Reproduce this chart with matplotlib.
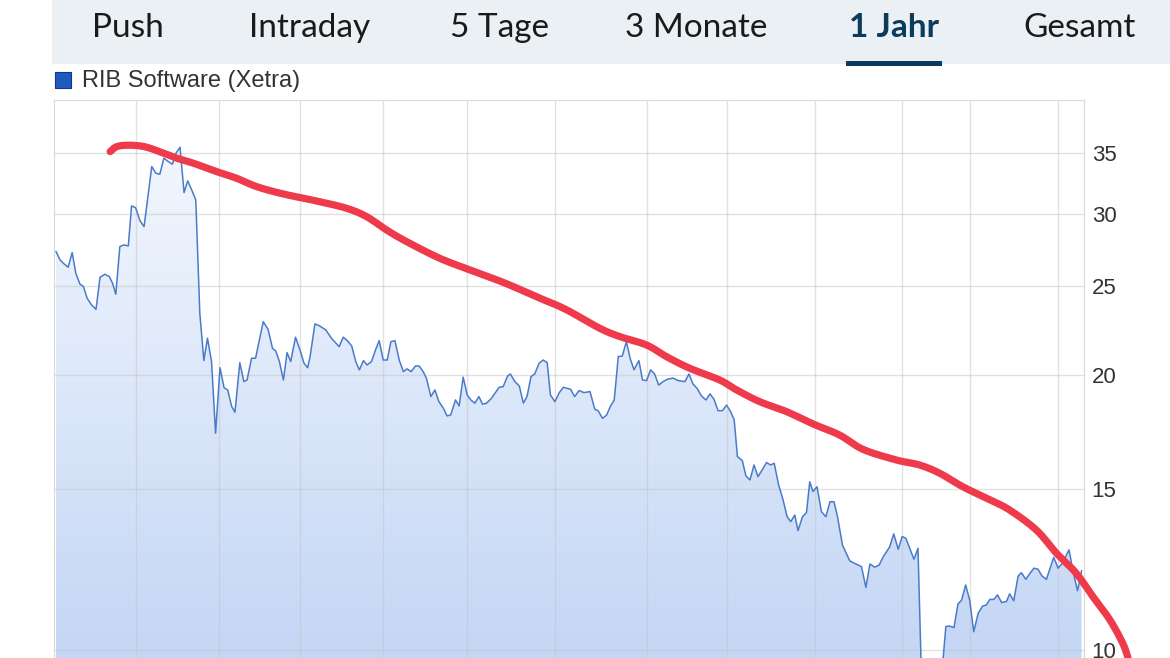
import numpy as np
import matplotlib
matplotlib.use('Agg')
import matplotlib.pyplot as plt
from matplotlib.patches import Rectangle
from matplotlib.colors import LinearSegmentedColormap
from matplotlib.ticker import NullLocator

# ---------------- data ----------------
tab_labels = ["Push", "Intraday", "5 Tage", "3 Monate", "1 Jahr", "Gesamt"]
active_tab = "1 Jahr"
series_name = "RIB Software (Xetra)"

y_ticks = [10, 15, 20, 25, 30, 35]
y_tick_labels = ["10", "15", "20", "25", "30", "35"]
month_grid_days = [20.3, 40.8, 60.9, 81.4, 102.2, 124.0, 146.8, 166.6, 188.3, 209.9, 226.7, 248.5]

days = [0.5, 1.5, 2.3, 3.5, 4.5, 5.4, 6.4, 7.3, 8.2, 9.3,
        10.4, 11.4, 12.6, 13.7, 14.5, 15.3, 16.3, 17.3, 18.4, 19.2,
        20.2, 21.3, 22.3, 24.2, 25.2, 26.2, 27.2, 28.3, 29.3, 30.2,
        31.2, 32.2, 33.1, 34.1, 35.1, 36.1, 37.1, 38.0, 39.0, 40.0,
        41.1, 42.1, 43.0, 44.0, 44.8, 46.0, 47.0, 47.8, 48.9, 49.9,
        51.8, 53.0, 54.1, 54.9, 55.8, 56.8, 57.7, 58.6, 59.8, 60.9,
        61.9, 62.8,
        63.4, 64.6, 65.8, 67.3, 68.7, 70.6, 71.6, 72.6, 73.7, 74.7,
        75.6, 76.6, 77.5, 78.6, 79.6, 80.5, 81.5, 82.5, 83.4, 84.4,
        85.5, 86.5, 87.4, 88.4, 89.5, 90.4, 91.4, 92.2, 93.3, 94.3,
        95.3, 96.4, 97.3, 98.2, 99.4, 100.3, 101.3, 102.3, 103.2, 104.2,
        105.2, 106.1, 107.1, 108.3, 110.2, 111.2, 112.3, 113.0, 114.1, 115.2,
        116.2, 117.1, 118.1, 119.0, 120.1, 121.1, 122.1, 122.9, 124.0, 125.1,
        126.1, 127.9, 128.9, 130.0, 131.2,
        132.7, 133.9, 134.7, 135.8, 136.8, 137.8, 138.7, 139.7, 140.7, 141.7,
        142.7, 143.6, 144.8, 145.7, 146.7, 147.7, 148.7, 149.7, 150.8, 152.0,
        153.3, 154.5, 156.2, 157.2, 158.2, 159.2, 160.3, 161.4, 162.4, 163.4,
        164.4, 165.5, 166.5, 167.5, 168.4, 169.2, 170.4, 171.3, 172.3, 173.3,
        174.3, 175.3, 176.4, 177.4, 178.3, 179.4, 180.5, 181.5, 182.4, 183.4,
        184.2, 185.3, 186.3, 187.1, 187.9, 188.9, 190.0, 191.1, 192.1, 193.1,
        193.9, 195.2, 197.0, 198.2, 199.9, 201.0, 202.0, 203.2, 204.3, 205.3,
        206.9, 207.9, 209.0, 210.0, 210.9, 212.9, 213.9, 214.8, 216.0, 217.2,
        218.4, 219.6, 220.8, 221.8, 222.8, 223.8, 224.7, 225.7, 226.7, 227.7,
        228.8, 229.9, 230.8, 231.7, 232.7, 233.6, 234.6, 235.8, 236.6, 237.6,
        238.7, 239.5, 240.6, 241.6, 242.6, 243.6, 244.6, 245.7, 247.5, 248.6,
        249.6, 251.3, 252.3, 253.4, 254.4]

prices = [27.30, 26.73, 26.51, 26.24, 27.23, 25.85, 25.16, 24.99, 24.27, 23.86,
          23.60, 25.59, 25.78, 25.63, 25.20, 24.51, 27.64, 27.76, 27.69, 30.63,
          30.49, 29.49, 29.07, 33.82, 33.26, 33.17, 34.54, 34.25, 34.02, 34.98,
          35.51, 31.67, 32.62, 31.88, 31.09, 23.37, 20.74, 21.94, 20.69, 17.27,
          20.37, 19.37, 19.26, 18.47, 18.21, 20.63, 19.67, 19.75, 20.86, 20.86,
          22.88, 22.44, 21.39, 21.25, 20.69, 19.75, 21.16, 20.69, 22.00, 21.30,
          20.60, 20.37,
          20.95, 22.75, 22.63, 22.40, 21.94, 21.48, 22.00, 21.81, 21.52, 20.69,
          20.26, 20.74, 20.51, 20.69, 21.30, 21.81, 20.77, 20.77, 21.75, 21.81,
          20.74, 20.17, 20.31, 20.17, 20.46, 20.46, 20.17, 19.84, 18.94, 19.26,
          18.70, 18.39, 18.04, 18.08, 18.78, 18.50, 19.89, 19.02, 18.78, 18.63,
          18.94, 18.58, 18.63, 18.86, 19.39, 19.42, 19.95, 20.05, 19.67, 19.45,
          18.63, 18.94, 19.92, 20.05, 20.60, 20.77, 20.63, 19.02, 18.70, 19.13,
          19.39, 19.29, 18.94, 19.23, 19.13,
          19.18, 18.34, 18.28, 17.93, 18.08, 18.50, 18.78, 20.95, 20.98, 21.75,
          20.81, 20.26, 20.74, 19.75, 19.72, 20.26, 20.05, 19.50, 19.67, 19.80,
          19.84, 19.72, 19.67, 20.05, 19.55, 19.34, 18.97, 18.78, 19.07, 18.81,
          18.28, 18.28, 18.54, 18.24, 17.86, 16.28, 16.12, 15.51, 15.35, 15.94,
          15.48, 15.74, 16.04, 15.94, 16.01, 15.16, 14.60, 13.99, 13.82, 14.05,
          13.51, 13.99, 14.14, 15.28, 14.91, 15.09, 14.17, 13.99, 14.53, 14.53,
          14.05, 13.03, 12.52, 12.44, 12.34, 11.71, 12.42, 12.32, 12.39, 12.65,
          12.97, 13.40, 12.89, 13.31, 13.25, 12.57, 12.92, 9.20, 9.10, 9.00,
          9.30, 9.20, 10.61, 10.62, 10.58, 11.23, 11.34, 11.78, 11.34, 10.47,
          10.97, 11.17, 11.20, 11.36, 11.36, 11.49, 11.27, 11.30, 11.52, 11.32,
          12.05, 12.15, 11.95, 12.13, 12.29, 12.26, 12.05, 11.95, 12.63, 12.29,
          12.44, 12.87, 12.18, 11.61, 12.21]

# hand-drawn red trend annotation (day, price)
red_days = [13.9, 15.5, 18.0, 21.3, 23.8, 27.1, 30.4, 34.5, 40.3, 45.2,
            50.2, 56.8, 65.0, 72.4, 77.4, 82.3, 87.3, 95.5, 103.0, 111.6,
            119.5, 126.5, 135.1, 140.1, 146.7, 151.6, 157.4, 164.8, 169.0, 174.7,
            181.3, 187.9, 194.5, 200.3, 208.6, 214.3, 219.3, 225.0, 231.7, 236.6,
            243.2, 248.2, 253.1, 257.2, 261.4, 264.6, 265.9, 266.8]
red_prices = [35.12, 35.56, 35.69, 35.63, 35.42, 34.98, 34.54, 34.11, 33.39, 32.84,
              32.15, 31.56, 31.01, 30.45, 29.81, 28.83, 27.99, 26.84, 26.06, 25.22,
              24.35, 23.62, 22.50, 22.03, 21.57, 20.95, 20.34, 19.75, 19.26, 18.70,
              18.24, 17.68, 17.19, 16.58, 16.14, 15.94, 15.61, 15.09, 14.60, 14.23,
              13.53, 12.76, 12.13, 11.44, 10.79, 10.17, 9.80, 9.50]

assert len(days) == len(prices), (len(days), len(prices))
assert len(red_days) == len(red_prices)

# ---------------- figure ----------------
W, H = 1170, 658
fig = plt.figure(figsize=(W / 100, H / 100), dpi=100)
fig.patch.set_facecolor('white')


def fx(px):
    return px / W


def fy(py):
    return 1 - py / H


# tab bar
fig.patches.append(Rectangle((fx(52), fy(64)), fx(W) - fx(52), 64 / H,
                             transform=fig.transFigure, facecolor='#ebf0f4',
                             edgecolor='none', zorder=0))
tab_centers = [128, 309.5, 499.5, 696, 894, 1079.5]
for lab, cx in zip(tab_labels, tab_centers):
    active = lab == active_tab
    fig.text(fx(cx), fy(36.7), lab, ha='center', va='baseline',
             fontsize=24, family=['Lato', 'DejaVu Sans'],
             fontweight='bold' if active else 'normal',
             color='#0d3b5e' if active else '#1a1a1a')
fig.patches.append(Rectangle((fx(846), fy(66)), (942 - 846) / W, 5 / H,
                             transform=fig.transFigure, facecolor='#0d3b5e',
                             edgecolor='none', zorder=2))

# legend
fig.patches.append(Rectangle((fx(55), fy(88)), 16 / W, 16 / H,
                             transform=fig.transFigure, facecolor='#1f5bbf',
                             edgecolor='#123a7a', linewidth=0.8, zorder=2))
fig.text(fx(82), fy(81), series_name, ha='left', va='center', fontsize=17,
         family=['Liberation Sans', 'DejaVu Sans'], color='#333333')

# chart axes (extends beyond bottom of image)
ybot_px = 738.5
ax = fig.add_axes([fx(54), fy(ybot_px), (1084 - 54) / W, (ybot_px - 100) / H])
ax.set_facecolor('white')
ax.set_yscale('log')

# gradient fill under the line
grad = np.linspace(0, 1, 256).reshape(-1, 1)
cmap = LinearSegmentedColormap.from_list('g', ['#bcd1f3', '#f7faff'])
im = ax.imshow(grad, extent=[0, 1, 0, 1], transform=ax.transAxes, origin='lower',
               cmap=cmap, aspect='auto', zorder=1, interpolation='bilinear')
poly = ax.fill_between(days, prices, 1, facecolor='none', edgecolor='none', zorder=1)
im.set_clip_path(poly.get_paths()[0], transform=ax.transData)

# grid
for d in month_grid_days:
    ax.axvline(d, color='#c4c4c4', alpha=0.5, lw=1.0, zorder=2)
for t in y_ticks:
    ax.axhline(t, color='#c4c4c4', alpha=0.5, lw=1.0, zorder=2)

# price line
ax.plot(days, prices, color='#4a7bc9', lw=1.1, zorder=3, solid_joinstyle='round')


# smooth red hand-drawn stroke (Catmull-Rom through the points, in log space)
def catmull_rom(x, y, n=12):
    x = np.asarray(x, float)
    y = np.asarray(y, float)
    px = np.concatenate([[2 * x[0] - x[1]], x, [2 * x[-1] - x[-2]]])
    py = np.concatenate([[2 * y[0] - y[1]], y, [2 * y[-1] - y[-2]]])
    ox, oy = [], []
    t = np.linspace(0, 1, n, endpoint=False)
    for i in range(1, len(px) - 2):
        p0, p1, p2, p3 = px[i - 1], px[i], px[i + 1], px[i + 2]
        q0, q1, q2, q3 = py[i - 1], py[i], py[i + 1], py[i + 2]
        ox.append(0.5 * ((2 * p1) + (-p0 + p2) * t + (2 * p0 - 5 * p1 + 4 * p2 - p3) * t ** 2
                         + (-p0 + 3 * p1 - 3 * p2 + p3) * t ** 3))
        oy.append(0.5 * ((2 * q1) + (-q0 + q2) * t + (2 * q0 - 5 * q1 + 4 * q2 - q3) * t ** 2
                         + (-q0 + 3 * q1 - 3 * q2 + q3) * t ** 3))
    ox.append([x[-1]])
    oy.append([y[-1]])
    return np.concatenate(ox), np.concatenate(oy)


rx, rly = catmull_rom(red_days, np.log(red_prices))
ax.plot(rx, np.exp(rly), color='#ee3a4b', lw=5.2, solid_capstyle='round',
        solid_joinstyle='round', clip_on=False, zorder=6)

# axes styling
ax.set_xlim(0, 255)
ax.set_ylim(8, 40)
ax.set_xticks([])
ax.yaxis.tick_right()
ax.set_yticks(y_ticks)
ax.set_yticklabels(y_tick_labels)
ax.yaxis.set_minor_locator(NullLocator())
ax.tick_params(axis='y', length=0, pad=5.5, labelsize=16, labelcolor='#333333')
for lab in ax.get_yticklabels():
    lab.set_family(['Liberation Sans', 'DejaVu Sans'])
for s in ['left', 'top', 'right']:
    ax.spines[s].set_color('#d9d9d9')
    ax.spines[s].set_linewidth(0.8)
ax.spines['bottom'].set_visible(False)

fig.savefig('out.png', dpi=100, facecolor='white')
